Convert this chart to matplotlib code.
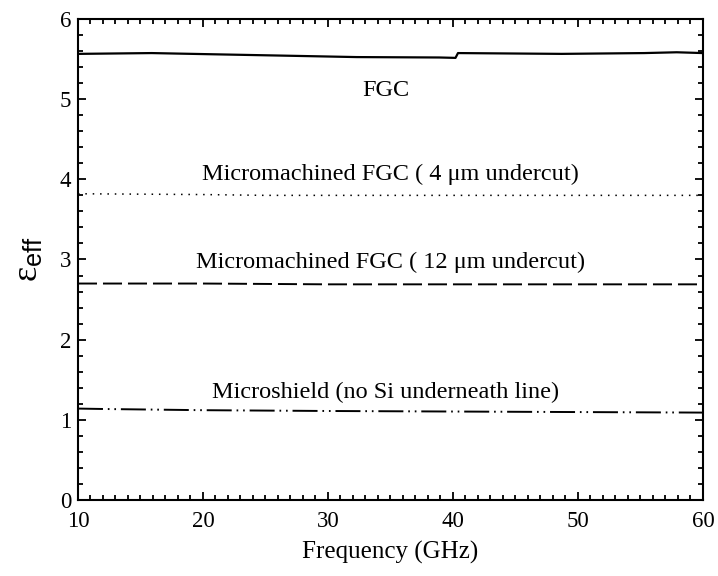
import matplotlib
matplotlib.use("Agg")
import matplotlib.pyplot as plt
from matplotlib.ticker import MultipleLocator

plt.rcParams['font.family'] = ['Liberation Serif', 'DejaVu Serif']
plt.rcParams['mathtext.fontset'] = 'custom'
plt.rcParams['mathtext.rm'] = 'Liberation Serif'
plt.rcParams['mathtext.sf'] = 'Liberation Sans'
plt.rcParams['mathtext.it'] = 'Liberation Serif:italic'
plt.rcParams['lines.scale_dashes'] = False

# effective permittivity vs frequency for each line type
freq_fgc = [10, 15.9, 20.8, 25.8, 32.3, 38.9, 40.2, 40.4, 48.7, 55.3, 57.9, 60]
eps_fgc = [5.565, 5.575, 5.56, 5.545, 5.525, 5.52, 5.515, 5.575, 5.565, 5.575, 5.585, 5.575]

freq_4um = [10, 15, 20, 25, 30, 40, 50, 60]
eps_4um = [3.82, 3.815, 3.81, 3.80, 3.80, 3.80, 3.80, 3.80]

freq_12um = [10, 20, 30, 40, 50, 60]
eps_12um = [2.70, 2.70, 2.69, 2.69, 2.69, 2.69]

freq_ms = [10, 12, 20, 30, 45, 60]
eps_ms = [1.14, 1.135, 1.12, 1.11, 1.10, 1.09]

labels = ["FGC",
          "Micromachined FGC ( 4 \u03bcm undercut)",
          "Micromachined FGC ( 12 \u03bcm undercut)",
          "Microshield (no Si underneath line)"]
label_x = [34.6, 35.0, 35.0, 34.6]
label_y = [5.04, 3.99, 2.89, 1.275]

fig = plt.figure(figsize=(7.18, 5.76), dpi=100)
ax = fig.add_axes([0.1086, 0.132, 0.8705, 0.835])

ax.plot(freq_fgc, eps_fgc, color='black', lw=1.6)
ax.plot(freq_4um, eps_4um, color='black', lw=1.1, linestyle=(0, (1.1, 4.2)))
ax.plot(freq_12um, eps_12um, color='black', lw=1.4, linestyle=(0, (13.7, 4.3)))
ax.plot(freq_ms, eps_ms, color='black', lw=1.4,
        linestyle=(0, (18, 3.5, 1.2, 3.5, 1.2, 3.5)))

for t, x, y in zip(labels, label_x, label_y):
    ax.text(x, y, t, ha='center', va='baseline', fontsize=17.5)

ax.set_xlim(10, 60)
ax.set_ylim(0, 6)
ax.xaxis.set_major_locator(MultipleLocator(10))
ax.xaxis.set_minor_locator(MultipleLocator(1))
ax.yaxis.set_major_locator(MultipleLocator(1))
ax.yaxis.set_minor_locator(MultipleLocator(0.2))
ax.tick_params(which='both', direction='in', top=True, right=True, width=1.3)
ax.tick_params(which='major', length=6, labelsize=16.5)
ax.tick_params(which='minor', length=3.5)
ax.tick_params(axis='x', which='major', pad=8)
ax.tick_params(axis='y', which='major', pad=5)
for s in ax.spines.values():
    s.set_linewidth(1.5)

ax.set_xlabel("Frequency (GHz)", fontsize=18, labelpad=6)
ax.set_ylabel("$\\mathregular{\u03b5}_{\\mathsf{eff}}$", fontsize=26, labelpad=10)

fig.savefig("out.png", dpi=100)
